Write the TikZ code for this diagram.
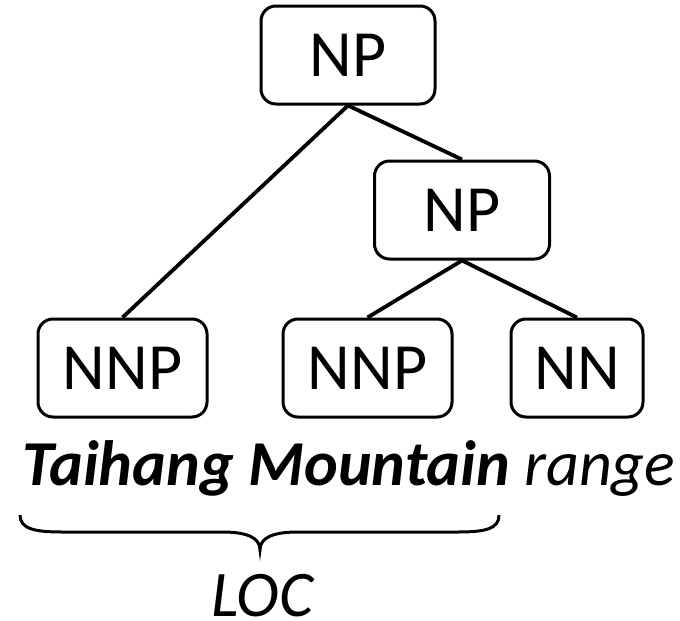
\documentclass[tikz,border=0pt]{standalone}
\usepackage{fontspec}
\setmainfont{Carlito}
\begin{document}
\begin{tikzpicture}[x=1pt,y=-1pt,
  tag/.style={draw, line width=3pt, rounded corners=15pt, inner sep=0pt,
    minimum height=98pt, font=\fontsize{66}{78}\selectfont},
  edge/.style={line width=3.8pt},
  bigtext/.style={inner sep=0pt, font=\fontsize{64}{76}\selectfont}]
\useasboundingbox (0,0) rectangle (680,621);

% tree nodes
\node[tag, minimum width=174pt] (np1)  at (348,55)   {NP};
\node[tag, minimum width=175pt] (np2)  at (462,210)  {NP};
\node[tag, minimum width=169pt] (nnp1) at (122.5,368) {NNP};
\node[tag, minimum width=169pt] (nnp2) at (367.5,368) {NNP};
\node[tag, minimum width=132pt] (nn)   at (577,368)  {NN};

% branches
\draw[edge] (np1.south) -- (nnp1.north);
\draw[edge] (np1.south) -- (np2.north);
\draw[edge] (np2.south) -- (nnp2.north);
\draw[edge] (np2.south) -- (nn.north);

% the phrase
\node[bigtext, anchor=base] (phrase) at (349,485)
  {\textbf{\textit{Taihang Mountain}} \textit{range}};

% brace under the entity
\coordinate (bl) at (20,515);
\coordinate (br) at (499,515);
\coordinate (tip) at (260,550);
\draw[edge, line width=3pt]
  (bl) .. controls (20,529) and (35,532) .. (62,532)
  -- (222,532) .. controls (248,532) and (260,538) .. (tip)
  .. controls (260,538) and (272,532) .. (298,532)
  -- (458,532) .. controls (485,532) and (499,529) .. (br);

\node[bigtext, font=\fontsize{65}{78}\selectfont, anchor=base] (loc) at (263,616) {\textit{LOC}};
\end{tikzpicture}
\end{document}
